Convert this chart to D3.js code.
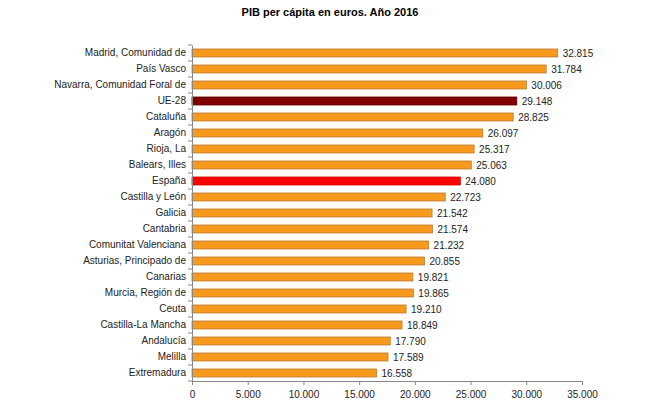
<!DOCTYPE html>
<html>
<head>
<meta charset="utf-8">
<script src="https://cdn.jsdelivr.net/npm/d3@7"></script>
<style>
  body { margin: 0; background: #fff; }
  text { font-family: "Liberation Sans", Arial, sans-serif; }
</style>
</head>
<body>
<div id="chart"></div>
<script>
// PIB per cápita por comunidad, 2016
const regions = ["Madrid, Comunidad de", "País Vasco", "Navarra, Comunidad Foral de", "UE-28",
    "Cataluña", "Aragón", "Rioja, La", "Balears, Illes", "España", "Castilla y León", "Galicia",
    "Cantabria", "Comunitat Valenciana", "Asturias, Principado de", "Canarias", "Murcia, Región de",
    "Ceuta", "Castilla-La Mancha", "Andalucía", "Melilla", "Extremadura"];
const values = [32815, 31784, 30006, 29148, 28825, 26097, 25317, 25063, 24080, 22723, 21542,
    21574, 21232, 20855, 19821, 19865, 19210, 18849, 17790, 17589, 16558];
const xTicks = [0, 5000, 10000, 15000, 20000, 25000, 30000, 35000];

const width = 650, height = 411;
const margin = {top: 45, right: 68, bottom: 30, left: 192};

const svg = d3.select("#chart").append("svg")
    .attr("width", width)
    .attr("height", height);

const x = d3.scaleLinear()
    .domain([0, 35000])
    .range([margin.left, width - margin.right]);

const y = d3.scaleBand()
    .domain(regions)
    .range([margin.top, height - margin.bottom])
    .paddingInner(0.5)
    .paddingOuter(0.25);

const fmt = d3.formatLocale({decimal: ",", thousands: ".", grouping: [3], currency: ["", "€"]}).format(",");

function barColor(d) {
    if (d === "UE-28") return "#800000";
    if (d === "España") return "#ff0000";
    return "#f79a1e";
}
function barStroke(d) {
    if (d === "UE-28") return "#5a0000";
    if (d === "España") return "#d00000";
    return "#b87a30";
}

svg.append("text")
    .attr("x", 330)
    .attr("y", 16)
    .attr("text-anchor", "middle")
    .attr("font-size", 11)
    .attr("font-weight", "bold")
    .attr("fill", "#000")
    .text("PIB per cápita en euros. Año 2016");

const bars = svg.append("g");
bars.selectAll("rect")
    .data(regions)
    .join("rect")
    .attr("x", x(0))
    .attr("y", d => y(d))
    .attr("width", (d, i) => x(values[i]) - x(0))
    .attr("height", y.bandwidth())
    .attr("fill", d => barColor(d))
    .attr("stroke", d => barStroke(d))
    .attr("stroke-width", 0.8);

bars.selectAll("text")
    .data(regions)
    .join("text")
    .attr("x", (d, i) => x(values[i]) + 5)
    .attr("y", d => y(d) + y.bandwidth() / 2)
    .attr("dy", "0.35em")
    .attr("font-size", 10)
    .attr("fill", "#222")
    .text((d, i) => fmt(values[i]));

// x axis
const xAxis = svg.append("g")
    .attr("transform", `translate(0,${height - margin.bottom})`)
    .call(d3.axisBottom(x).tickValues(xTicks).tickFormat(fmt).tickSizeOuter(0).tickSize(4));
xAxis.select(".domain").attr("stroke", "#888");
xAxis.selectAll(".tick line").attr("stroke", "#888");
xAxis.selectAll(".tick text").attr("font-size", 10).attr("fill", "#222")
    .attr("font-family", "Liberation Sans, Arial, sans-serif").attr("dy", "0.95em");

// y axis
const yAxis = svg.append("g")
    .attr("transform", `translate(${margin.left},0)`)
    .call(d3.axisLeft(y).tickSize(0).tickPadding(6));
yAxis.select(".domain").attr("stroke", "#888");
yAxis.selectAll(".tick text").attr("font-size", 10).attr("fill", "#222")
    .attr("font-family", "Liberation Sans, Arial, sans-serif");

// small ticks between categories
const step = y.step();
svg.append("g").selectAll("line")
    .data(regions.concat([""]))
    .join("line")
    .attr("x1", margin.left - 4)
    .attr("x2", margin.left)
    .attr("y1", (d, i) => margin.top + i * step)
    .attr("y2", (d, i) => margin.top + i * step)
    .attr("stroke", "#888");
</script>
</body>
</html>
